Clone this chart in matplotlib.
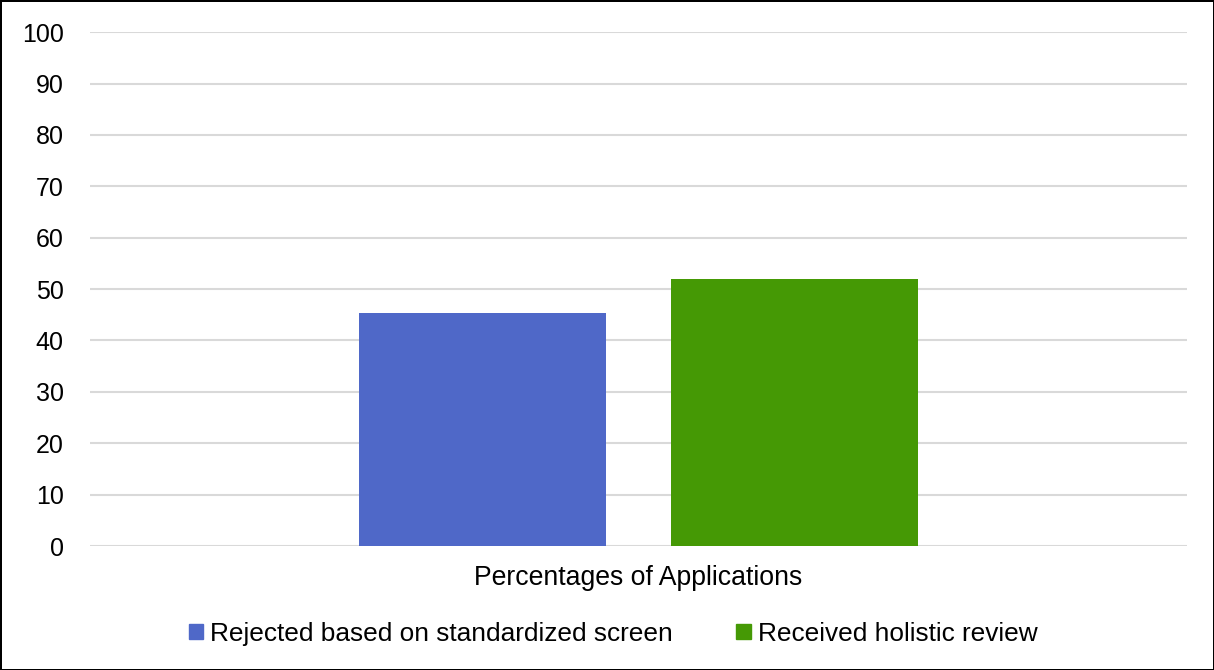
import matplotlib.pyplot as plt
from matplotlib.patches import Patch

plt.rcParams['font.family'] = ['Liberation Sans', 'DejaVu Sans']

# 数据
category = 'Percentages of Applications'
series_names = ['Rejected based on standardized screen', 'Received holistic review']
values = [45.4, 52.0]
colors = ['#4F68C8', '#459905']
y_ticks = list(range(0, 101, 10))

fig = plt.figure(figsize=(12.14, 6.70), dpi=100)
fig.patch.set_edgecolor('black')
fig.patch.set_linewidth(2)
ax = fig.add_axes([0.0741, 0.185, 0.9037, 0.767])

width = 0.225
offsets = [-0.1425, 0.1425]
for off, v, c in zip(offsets, values, colors):
    ax.bar(off, v, width=width, color=c, zorder=3)

ax.set_xlim(-0.5, 0.5)
ax.set_ylim(0, 100)
ax.set_yticks(y_ticks)
ax.set_xticks([])
ax.tick_params(axis='y', length=0, pad=19, labelsize=18)
ax.grid(axis='y', color='#d9d9d9', linewidth=1.5, zorder=0)
for s in ax.spines.values():
    s.set_visible(False)

ax.set_xlabel(category, fontsize=19.2, labelpad=14)

handles = [Patch(color=c) for c in colors]
fig.legend(handles, series_names, loc='center', bbox_to_anchor=(0.505, 0.054),
           ncol=2, frameon=False, fontsize=18.9, handlelength=0.55, handleheight=0.55,
           handletextpad=0.27, columnspacing=2.4)

fig.savefig('out.png', dpi=100, edgecolor=fig.get_edgecolor())
